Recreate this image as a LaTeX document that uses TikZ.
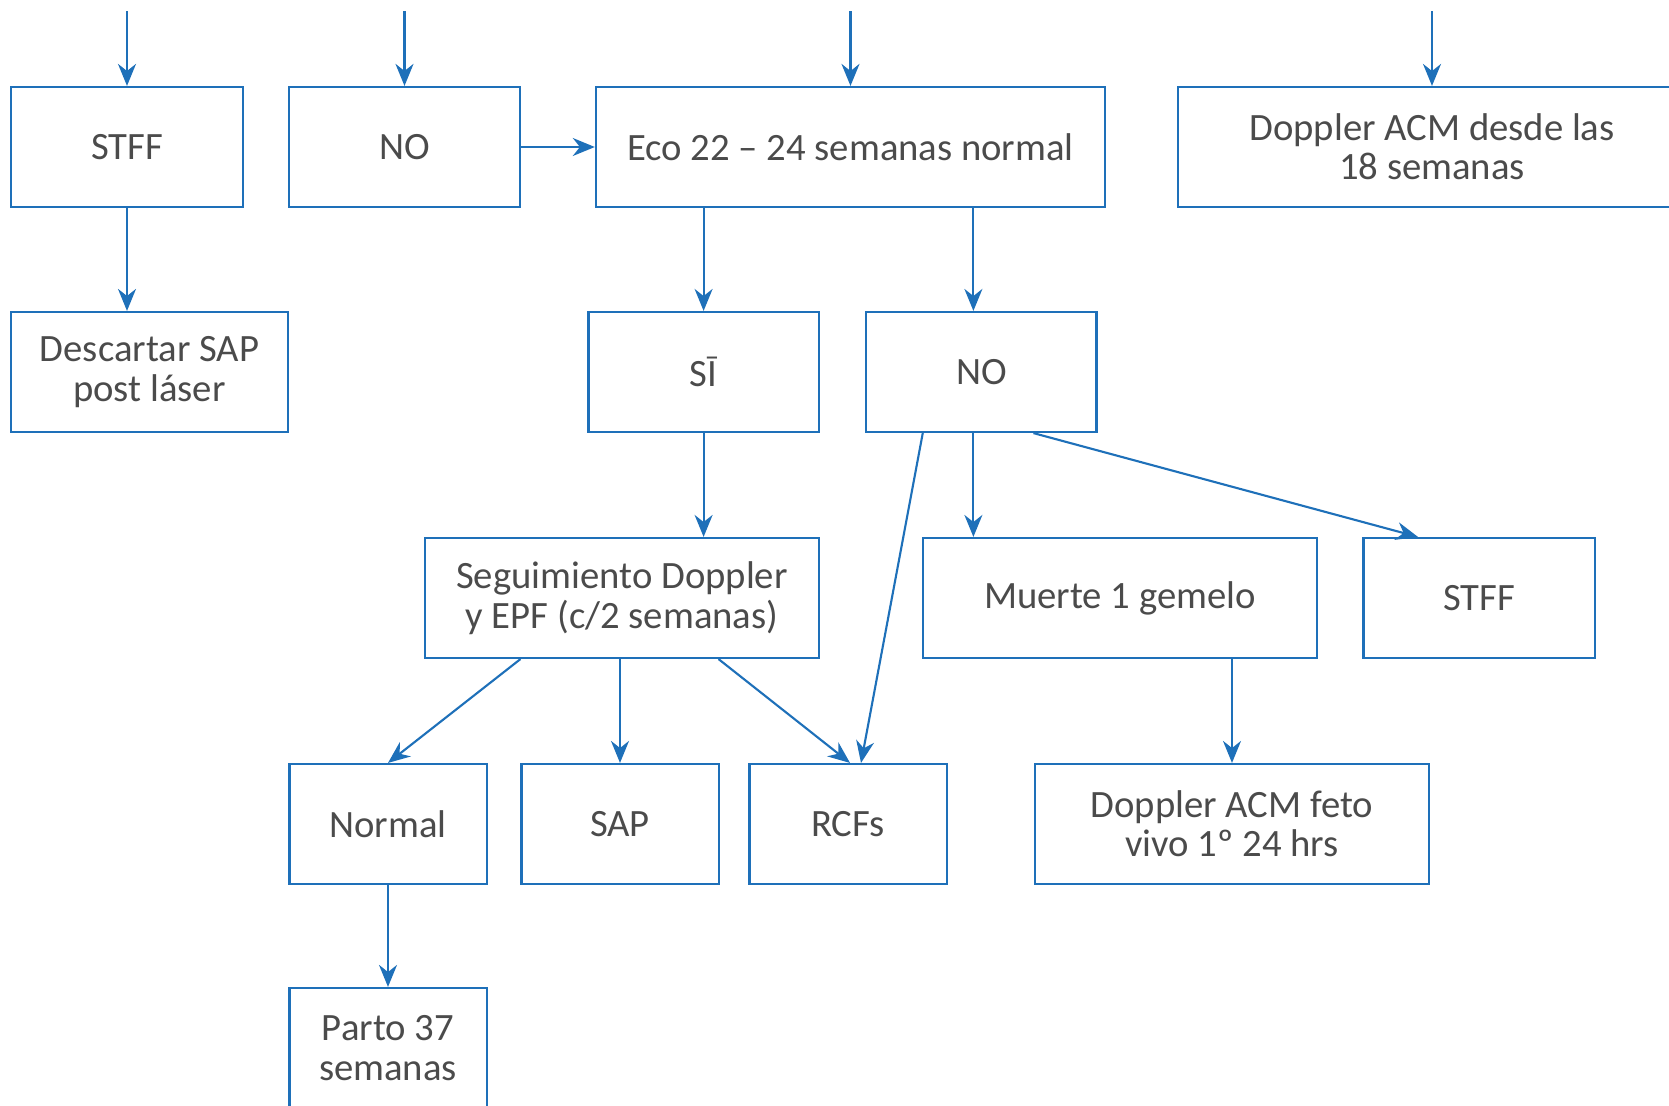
\documentclass[tikz,border=0pt]{standalone}
\usepackage{fontspec}
\setmainfont{Carlito}
\usepackage{tikz}
\usetikzlibrary{arrows.meta}
\definecolor{flowblue}{RGB}{30,112,185}
\definecolor{flowgray}{RGB}{75,75,75}

\begin{document}
\begin{tikzpicture}[auto, x=0.01cm, y=-0.01cm]
    % Styles for boxes and lines
    \tikzset{
      box/.style={rectangle, draw=flowblue, line width=0.6pt, text=flowgray, align=center, minimum height=1.2cm, inner sep=0pt, font=\fontsize{11}{11.2}\selectfont},
      arrow/.style={draw=flowblue, line width=0.6pt, ->, >={Stealth[length=2.2mm,width=1.8mm]}}
    }

    % Page frame
    \useasboundingbox (0,0) rectangle (1669,1106);
    \clip (0,0) rectangle (1669,1106);

    % Nodes with explicit coordinates
    \node[box, minimum width=2.31cm] (STFFa) at (127,147) {STFF};
    \node[box, minimum width=2.30cm] (NOa) at (404.5,147) {NO};
    \node[box, minimum width=5.09cm] (ECO) at (850.5,147) {Eco 22 -- 24 semanas normal};
    \node[box, minimum width=5.08cm] (DOP) at (1432,147) {Doppler ACM desde las\\18 semanas};

    \node[box, minimum width=2.76cm] (DSC) at (149.5,372) {Descartar SAP\\post láser};
    \node[box, minimum width=2.30cm] (SI) at (703.6,372) {SĪ};
    \node[box, minimum width=2.30cm] (NOb) at (981.4,372) {NO};

    \node[box, minimum width=3.93cm] (SEG) at (622,598) {Seguimiento Doppler\\y EPF (c/2 semanas)};
    \node[box, minimum width=3.93cm] (MUE) at (1120,598) {Muerte 1 gemelo};
    \node[box, minimum width=2.31cm] (STFFb) at (1479,598) {STFF};

    \node[box, minimum width=1.97cm] (NOR) at (388,824) {Normal};
    \node[box, minimum width=1.97cm] (SAP) at (620,824) {SAP};
    \node[box, minimum width=1.97cm] (RCF) at (848,824) {RCFs};
    \node[box, minimum width=3.93cm] (DAF) at (1232,824) {Doppler ACM feto\\vivo 1º 24 hrs};

    \node[box, minimum width=1.97cm] (PAR) at (388,1048) {Parto 37\\semanas};

    % Incoming ends
    \coordinate (inA) at (127,11);
    \coordinate (inB) at (404.5,11);
    \coordinate (inC) at (850.5,11);
    \coordinate (inD) at (1432,11);
    \coordinate (nx) at ([xshift=-0.08cm]NOb.north);

    % Arrows
    \draw[arrow] (inA) -- (STFFa);
    \draw[arrow] (inB) -- (NOa);
    \draw[arrow] (inC) -- (ECO);
    \draw[arrow] (inD) -- (DOP);
    \draw[arrow] (STFFa) -- (STFFa |- DSC.north);
    \draw[arrow] (NOa) -- (ECO);
    \draw[arrow] (ECO.south -| SI) -- (SI);
    \draw[arrow] (ECO.south -| nx) -- (nx);
    \draw[arrow] (SI) -- (SI |- SEG.north);
    \draw[arrow] (NOb.south -| nx) -- (MUE.north -| nx);
    \draw[arrow] ([xshift=-0.586cm]NOb.south) -- ([xshift=0.13cm]RCF.north);
    \draw[arrow] ([xshift=0.52cm]NOb.south) -- ([xshift=-0.61cm]STFFb.north);
    \draw[arrow] ([xshift=-1.015cm]SEG.south) -- (NOR.north);
    \draw[arrow] (SEG.south -| SAP) -- (SAP);
    \draw[arrow] ([xshift=0.965cm]SEG.south) -- ([xshift=0.02cm]RCF.north);
    \draw[arrow] (MUE.south -| DAF) -- (DAF);
    \draw[arrow] (NOR) -- (PAR);

\end{tikzpicture}
\end{document}
